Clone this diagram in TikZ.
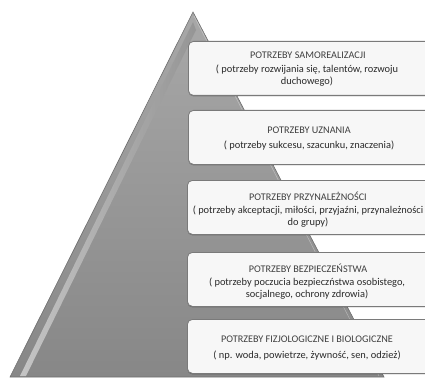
\documentclass[tikz,border=0pt]{standalone}
\usepackage{fontspec}
\setmainfont{Carlito}
\usetikzlibrary{shadows}
\definecolor{pyrtop}{HTML}{A8A8A8}
\definecolor{pyrbot}{HTML}{878787}
\definecolor{pyredge}{HTML}{6E6E6E}
\definecolor{bevel}{HTML}{D0D0D0}
\definecolor{boxline}{HTML}{7A7A7A}
\definecolor{boxfill}{HTML}{F7F7F7}
\definecolor{txt}{HTML}{2A2A2A}
\tikzset{
  needbox/.style={draw=boxline, line width=0.8pt, fill=boxfill, rounded corners=5pt,
    minimum width=252pt, minimum height=54pt, inner sep=0pt, anchor=north west,
    general shadow={fill=black, opacity=0.25, shadow yshift=-1pt, shadow xshift=0pt}},
  title/.style={font=\fontsize{10.2}{12}\selectfont, text=txt!90, inner sep=0pt},
  desc/.style={font=\fontsize{10.4}{11.6}\selectfont, text=txt, inner sep=0pt, align=center}
}
\begin{document}
\begin{tikzpicture}[x=1pt, y=-1pt]
\useasboundingbox (0,0) rectangle (425,377);
\clip (0,0) rectangle (425,377);
% pyramid body
\coordinate (apex) at (193,12);
\coordinate (bl) at (10,377);
\coordinate (br) at (384,377);
\shade[top color=pyrtop, bottom color=pyrbot, draw=pyredge, line width=0.6pt]
  (apex) -- (br) -- (bl) -- cycle;
% light bevel along the left face
\shade[left color=bevel, right color=pyrbot!90, opacity=0.85]
  (193,22) -- (196,30) -- (26,376) -- (20,376) -- cycle;
\draw[white, opacity=0.35, line width=0.5pt] (194,16) -- (379,376);
% need boxes, top to bottom
\node[needbox] (b1) at (188,41) {};
\node[needbox] (b2) at (188,110) {};
\node[needbox] (b3) at (187,180) {};
\node[needbox] (b4) at (187,252) {};
\node[needbox] (b5) at (187,319) {};
% texts
\node[title] (t1) at (308,55) {POTRZEBY SAMOREALIZACJI};
\node[desc] (d1) at (307,75.5) {( potrzeby rozwijania się, talentów, rozwoju\\duchowego)};
\node[title] (t2) at (309,130) {POTRZEBY UZNANIA};
\node[desc] (d2) at (309,146) {( potrzeby sukcesu, szacunku, znaczenia)};
\node[title] (t3) at (308,196) {POTRZEBY PRZYNALEŻNOŚCI};
\node[desc] (d3) at (308,216.5) {( potrzeby akceptacji, miłości, przyjaźni, przynależności\\do grupy)};
\node[title] (t4) at (308,268) {POTRZEBY BEZPIECZEŃSTWA};
\node[desc] (d4) at (307,288.5) {( potrzeby poczucia bezpieczństwa osobistego,\\socjalnego, ochrony zdrowia)};
\node[title] (t5) at (307,339.5) {POTRZEBY FIZJOLOGICZNE I BIOLOGICZNE};
\node[desc] (d5) at (307,356) {( np. woda, powietrze, żywność, sen, odzież)};
\end{tikzpicture}
\end{document}
